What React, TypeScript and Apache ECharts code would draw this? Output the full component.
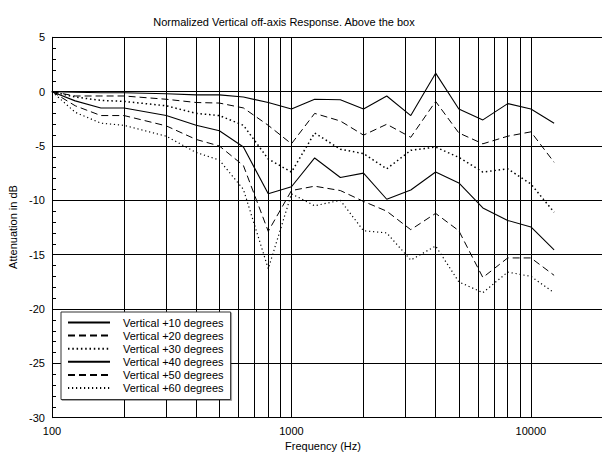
import React, { useEffect, useRef } from 'react';
import * as echarts from 'echarts';

const FREQS = [100, 125, 160, 200, 300, 400, 500, 630, 800, 1000, 1250, 1600, 2000, 2500, 3150, 4000, 5000, 6300, 8000, 10000, 12500];

const V10 = [0, -0.05, -0.1, -0.1, -0.2, -0.3, -0.3, -0.5, -1.0, -1.6, -0.7, -0.75, -1.6, -0.4, -2.2, 1.7, -1.6, -2.6, -1.1, -1.6, -2.9];
const V20 = [0, -0.4, -0.4, -0.4, -0.7, -1.0, -1.05, -1.5, -3.1, -4.8, -2.0, -2.7, -4.0, -3.0, -4.2, -0.9, -3.8, -4.8, -4.1, -3.7, -6.5];
const V30 = [0, -0.5, -0.8, -0.9, -1.3, -2.0, -2.2, -3.1, -6.2, -7.4, -3.8, -5.3, -5.7, -7.1, -5.4, -5.1, -6.05, -7.4, -7.1, -8.5, -11.1];
const V40 = [0, -0.85, -1.5, -1.5, -2.2, -3.1, -3.6, -5.1, -9.4, -8.75, -6.1, -7.9, -7.5, -9.9, -9.05, -7.4, -8.4, -10.7, -11.85, -12.45, -14.55];
const V50 = [0, -1.3, -2.2, -2.2, -3.15, -4.4, -5.0, -6.8, -12.85, -9.1, -8.7, -9.1, -10.1, -11.0, -12.7, -11.2, -12.8, -17.1, -15.3, -15.3, -16.9];
const V60 = [0, -1.9, -2.9, -3.1, -4.1, -5.6, -6.3, -9.0, -16.3, -9.4, -10.5, -10.0, -12.8, -13.0, -15.5, -14.2, -17.5, -18.5, -16.6, -17.0, -18.5];

const NAMES = [
  'Vertical +10 degrees',
  'Vertical +20 degrees',
  'Vertical +30 degrees',
  'Vertical +40 degrees',
  'Vertical +50 degrees',
  'Vertical +60 degrees',
];

const GRID_FREQS = [200, 300, 400, 500, 600, 700, 800, 900, 2000, 3000, 4000, 5000, 6000, 7000, 8000, 9000];

const TITLE = 'Normalized Vertical off-axis Response. Above the box';
const X_NAME = 'Frequency (Hz)';
const Y_NAME = 'Attenuation in dB';

const FONT = '"Liberation Sans", Arial, sans-serif';

export default function App() {
  const ref = useRef<HTMLDivElement>(null);

  useEffect(() => {
    document.body.style.margin = '0';
    document.body.style.overflow = 'hidden';
    const chart = echarts.init(ref.current!, null, { renderer: 'svg' });

    const seriesValues = [V10, V20, V30, V40, V50, V60];
    const styles: any[] = [
      { width: 1.1, type: 'solid' },
      { width: 1, type: [7, 4] },
      { width: 1.5, type: [1.5, 2.8] },
      { width: 1.1, type: 'solid' },
      { width: 1, type: [7, 4] },
      { width: 1.2, type: [1.2, 2.8] },
    ];

    const series: any[] = seriesValues.map((vals, i) => ({
      name: NAMES[i],
      type: 'line',
      symbol: 'none',
      color: '#000',
      lineStyle: { color: '#000', ...styles[i] },
      data: FREQS.map((f, j) => [f, vals[j]]),
      z: 3,
    }));

    series[0].markLine = {
      silent: true,
      symbol: ['none', 'none'],
      label: { show: false },
      lineStyle: { color: '#000', width: 1, type: 'solid' },
      emphasis: { disabled: true },
      data: GRID_FREQS.map((v) => ({ xAxis: v })),
      z: 1,
    };

    chart.setOption({
      animation: false,
      textStyle: { fontFamily: FONT },
      grid: { left: 52, top: 37.3, right: 1.8, bottom: 41.3, containLabel: false },
      xAxis: {
        type: 'log',
        logBase: 10,
        min: 100,
        max: 20000,
        axisLine: { show: true, lineStyle: { color: '#000', width: 1 } },
        axisTick: { show: false },
        axisLabel: {
          color: '#000',
          fontSize: 11,
          fontFamily: FONT,
          margin: 8,
          formatter: (v: number) => {
            const l = Math.log10(v);
            return Math.abs(l - Math.round(l)) < 1e-6 ? String(Math.round(v)) : '';
          },
        },
        splitLine: { show: true, lineStyle: { color: '#000', width: 1 } },
      },
      yAxis: {
        type: 'value',
        min: -30,
        max: 5,
        interval: 5,
        axisLine: { show: true, onZero: false, lineStyle: { color: '#000', width: 1 } },
        axisTick: { show: true, inside: true, length: 4, lineStyle: { color: '#000' } },
        minorTick: { show: true, splitNumber: 5, length: 4, lineStyle: { color: '#000' } },
        axisLabel: { color: '#000', fontSize: 11, fontFamily: FONT, margin: 7 },
        splitLine: { show: true, lineStyle: { color: '#000', width: 1 } },
      },
      legend: {
        orient: 'vertical',
        left: 61,
        top: 312,
        itemWidth: 42,
        itemHeight: 12,
        itemGap: 2.1,
        padding: [5, 7, 6, 6],
        borderColor: '#333',
        borderWidth: 1,
        backgroundColor: '#fff',
        shadowColor: 'rgba(0,0,0,0.35)',
        shadowOffsetX: 1,
        shadowOffsetY: 1,
        shadowBlur: 0,
        selectedMode: false,
        itemStyle: { color: 'rgba(0,0,0,0)', borderWidth: 0, opacity: 0 },
        textStyle: { color: '#000', fontSize: 11, fontFamily: FONT, padding: [0, 0, 0, 8] },
        data: NAMES,
        z: 10,
      },
      graphic: [
        {
          type: 'text',
          x: 284,
          y: 21.7,
          style: { text: TITLE, fontSize: 11, fontFamily: FONT, fill: '#000', textAlign: 'center', textVerticalAlign: 'middle' },
        },
        {
          type: 'text',
          x: 323,
          y: 446,
          style: { text: X_NAME, fontSize: 11, fontFamily: FONT, fill: '#000', textAlign: 'center', textVerticalAlign: 'middle' },
        },
        {
          type: 'text',
          x: 13,
          y: 227,
          rotation: Math.PI / 2,
          style: { text: Y_NAME, fontSize: 11, fontFamily: FONT, fill: '#000', textAlign: 'center', textVerticalAlign: 'middle' },
        },
      ],
      series,
    });

    return () => chart.dispose();
  }, []);

  return <div ref={ref} style={{ position: 'absolute', left: 0, top: 0, width: 606, height: 459 }} />;
}
